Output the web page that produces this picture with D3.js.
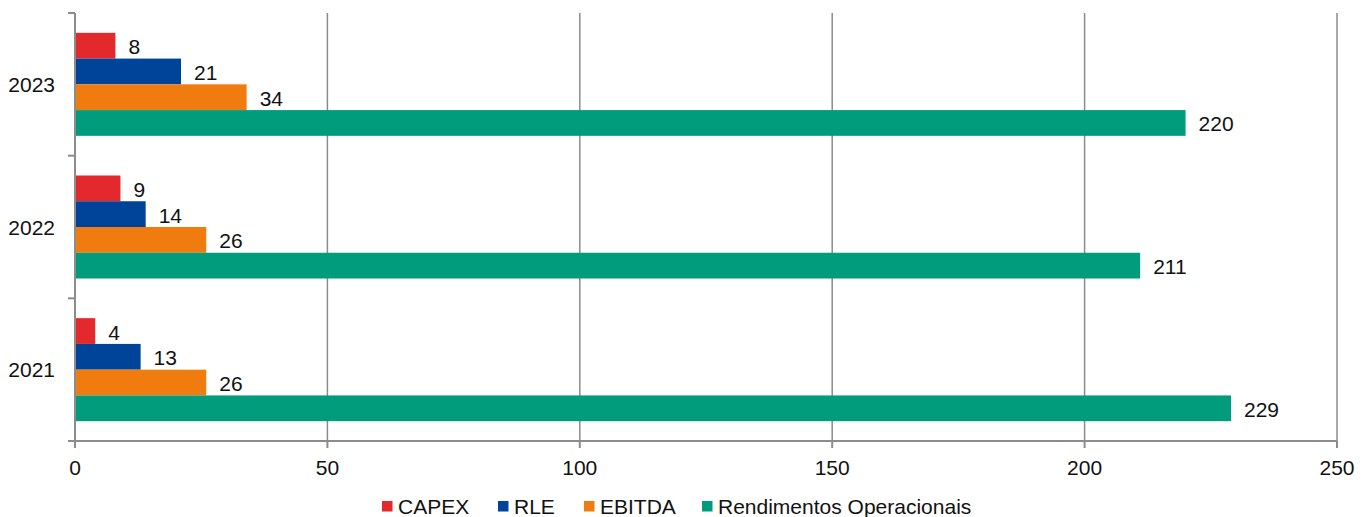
<!DOCTYPE html>
<html>
<head>
<meta charset="utf-8">
<script src="https://cdn.jsdelivr.net/npm/d3@7"></script>
<style>
  html, body { margin: 0; padding: 0; background: #ffffff; }
  svg { display: block; font-family: "Liberation Sans", Arial, sans-serif; }
</style>
</head>
<body>
<svg id="chart" width="1371" height="517"></svg>
<script>
// Years, top to bottom
const years = ["2023", "2022", "2021"];
// Series, in drawing order within each year
const seriesNames = ["CAPEX", "RLE", "EBITDA", "Rendimentos Operacionais"];
const seriesColors = ["#e3292b", "#00449a", "#f07c0f", "#009c7c"];
// Values per year (same order as years)
const capex = [8, 9, 4];
const rle = [21, 14, 13];
const ebitda = [34, 26, 26];
const rendimentos = [220, 211, 229];
const xTicks = [0, 50, 100, 150, 200, 250];

const seriesValues = [capex, rle, ebitda, rendimentos];

const svg = d3.select("#chart");
const margin = { left: 75, right: 34, top: 13, bottom: 76 };
const W = 1371, H = 517;
const plotW = W - margin.left - margin.right;
const plotH = H - margin.top - margin.bottom;

const x = d3.scaleLinear().domain([0, 250]).range([margin.left, margin.left + plotW]);
const y = d3.scaleBand().domain(years).range([margin.top, margin.top + plotH]).padding(0);
const ySub = d3.scaleBand().domain(seriesNames).range([0, y.bandwidth()])
  .paddingInner(0).paddingOuter(0.77);

const axisColor = "#8c8c8c";
const fontSize = 21;

// vertical gridlines
svg.append("g").selectAll("line").data(xTicks.slice(1)).join("line")
  .attr("x1", d => x(d)).attr("x2", d => x(d))
  .attr("y1", margin.top).attr("y2", margin.top + plotH)
  .attr("stroke", axisColor).attr("stroke-width", 1.5);

// bars
const rows = [];
years.forEach((yr, i) => {
  seriesNames.forEach((s, j) => {
    rows.push({ year: yr, series: s, value: seriesValues[j][i], color: seriesColors[j] });
  });
});

svg.append("g").selectAll("rect").data(rows).join("rect")
  .attr("x", x(0) + 1)
  .attr("y", d => y(d.year) + ySub(d.series))
  .attr("width", d => x(d.value) - x(0) - 1)
  .attr("height", ySub.bandwidth())
  .attr("fill", d => d.color);

// value labels
svg.append("g").selectAll("text").data(rows).join("text")
  .attr("x", d => x(d.value) + 13)
  .attr("y", d => y(d.year) + ySub(d.series) + ySub.bandwidth() / 2 + 8.5)
  .attr("font-size", fontSize)
  .attr("fill", "#111")
  .text(d => d.value);

// y axis line + category ticks
const yAxisG = svg.append("g");
yAxisG.append("line")
  .attr("x1", x(0)).attr("x2", x(0))
  .attr("y1", margin.top).attr("y2", margin.top + plotH)
  .attr("stroke", axisColor).attr("stroke-width", 2);
const boundaries = years.map(d => y(d)).concat([margin.top + plotH]);
yAxisG.selectAll(".tk").data(boundaries).join("line")
  .attr("x1", x(0) - 7).attr("x2", x(0))
  .attr("y1", d => d).attr("y2", d => d)
  .attr("stroke", axisColor).attr("stroke-width", 2);
yAxisG.selectAll("text").data(years).join("text")
  .attr("x", 55)
  .attr("y", d => y(d) + y.bandwidth() / 2 + 7.5)
  .attr("text-anchor", "end")
  .attr("font-size", fontSize)
  .attr("fill", "#111")
  .text(d => d);

// x axis line + ticks
const xAxisG = svg.append("g");
xAxisG.append("line")
  .attr("x1", x(0) - 7).attr("x2", x(250))
  .attr("y1", margin.top + plotH).attr("y2", margin.top + plotH)
  .attr("stroke", axisColor).attr("stroke-width", 2);
xAxisG.selectAll(".tk").data(xTicks).join("line")
  .attr("x1", d => x(d)).attr("x2", d => x(d))
  .attr("y1", margin.top + plotH).attr("y2", margin.top + plotH + 7)
  .attr("stroke", axisColor).attr("stroke-width", 2);
xAxisG.selectAll("text").data(xTicks).join("text")
  .attr("x", d => x(d))
  .attr("y", 474.5)
  .attr("text-anchor", "middle")
  .attr("font-size", fontSize)
  .attr("fill", "#111")
  .text(d => d);

// legend
const legendX = [382, 498, 584, 702];
const lg = svg.append("g").selectAll("g").data(seriesNames).join("g")
  .attr("transform", (d, i) => `translate(${legendX[i]},501)`);
lg.append("rect").attr("width", 10.5).attr("height", 10.5)
  .attr("fill", (d, i) => seriesColors[i]);
lg.append("text").attr("x", 16).attr("y", 12.5)
  .attr("font-size", fontSize).attr("fill", "#111")
  .text(d => d);
</script>
</body>
</html>
